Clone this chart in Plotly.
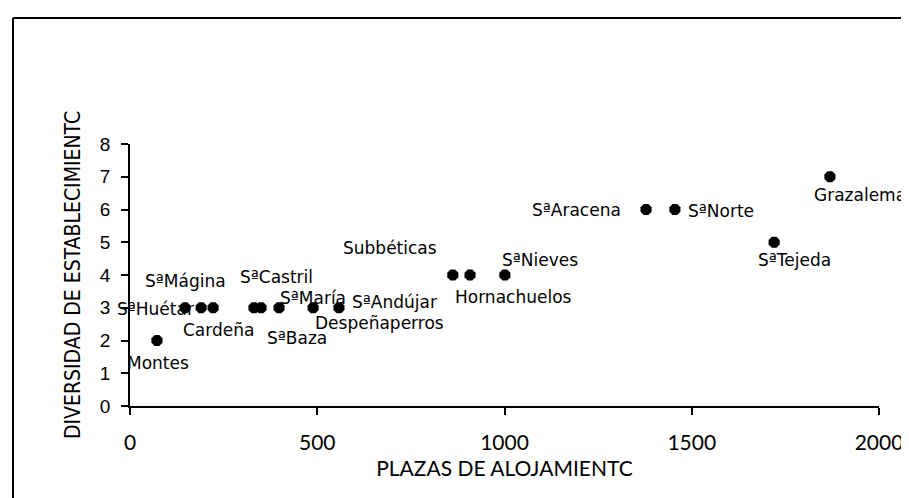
import plotly.graph_objects as go

# ---- data ----
names = ["Montes", "SªHuétar", "SªMágina", "Cardeña", "SªCastril", "SªBaza",
         "SªMaría", "Despeñaperros", "SªAndújar", "Subbéticas", "Hornachuelos",
         "SªNieves", "SªAracena", "SªNorte", "SªTejeda", "Grazalema"]
plazas = [72, 147, 190, 222, 331, 350, 398, 489, 558, 862, 908, 1001, 1378, 1455, 1720, 1869]
diversidad = [2, 3, 3, 3, 3, 3, 3, 3, 3, 4, 4, 4, 6, 6, 5, 7]
x_ticks = [0, 500, 1000, 1500, 2000]
y_ticks = [0, 1, 2, 3, 4, 5, 6, 7, 8]
x_title = "PLAZAS DE ALOJAMIENTC"
y_title = "DIVERSIDAD DE ESTABLECIMIENTC"

# label offsets in pixels (left edge of text, vertical centre) relative to the point
label_dx = [-32, -70, -58, -32, -16, 4, -1, 0, 11, -112, -17, -5, -116, 11, -18, -18]
label_dy = [-22, -1, 27, -22, 31, -30, 10, -15, 6, 27, -22, 15, 0, -1, -18, -18]

fig = go.Figure()
fig.add_trace(go.Scatter(
    x=plazas, y=diversidad, mode="markers",
    marker=dict(symbol="octagon", size=12, color="black"),
    cliponaxis=False, showlegend=False, hoverinfo="skip",
))

for n, xv, yv, dx, dy in zip(names, plazas, diversidad, label_dx, label_dy):
    fig.add_annotation(
        x=xv, y=yv, text=n, showarrow=False, xanchor="left", yanchor="middle",
        xshift=dx, yshift=dy,
        font=dict(family="DejaVu Sans", size=17, color="black"),
    )

# frame of the scanned page
L, R, T, B = -0.1562, 1.06, 1.481, -0.40
frame = dict(color="black", width=2)
fig.add_shape(type="line", xref="paper", yref="paper", x0=L, x1=L, y0=B, y1=T, line=frame)
fig.add_shape(type="line", xref="paper", yref="paper", x0=L, x1=R, y0=T, y1=T, line=frame)
fig.add_shape(type="line", xref="paper", yref="paper", x0=0.8865, x1=R, y0=-0.370, y1=-0.370,
              line=dict(color="#555555", width=2))

fig.update_layout(
    width=909, height=498,
    margin=dict(l=122, r=38, t=136, b=100),
    paper_bgcolor="white", plot_bgcolor="white",
    xaxis=dict(
        range=[0, 2000], tickvals=x_ticks, ticktext=[str(v) for v in x_ticks],
        showgrid=False, zeroline=False, showline=True, linecolor="black", linewidth=2,
        ticks="outside", ticklen=7, tickwidth=1.5, tickcolor="black",
        ticklabelstandoff=10,
        tickfont=dict(family="Lato", size=21, color="black"),
        title=dict(text=x_title, font=dict(family="Lato", size=21, color="black"), standoff=8),
        fixedrange=True,
    ),
    yaxis=dict(
        range=[0, 8], tickvals=y_ticks, ticktext=[str(v) for v in y_ticks],
        showgrid=False, zeroline=False, showline=True, linecolor="black", linewidth=1.5,
        ticks="outside", ticklen=7, tickwidth=1.5, tickcolor="black",
        ticklabelstandoff=7,
        tickfont=dict(family="Liberation Sans", size=19, color="black"),
        title=dict(text=y_title, font=dict(family="DejaVu Sans Condensed", size=21, color="black"), standoff=14),
        fixedrange=True,
    ),
)

fig.write_html("out.html")
